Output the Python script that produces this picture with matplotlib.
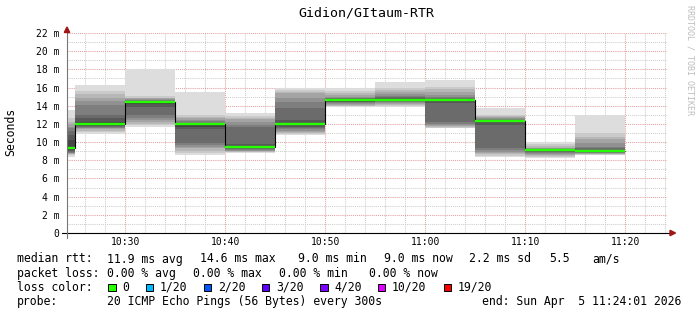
import matplotlib
matplotlib.use('Agg')
import matplotlib.pyplot as plt
from matplotlib.patches import Rectangle, Polygon

W, H = 697, 315
MONO = 'DejaVu Sans Mono'

# end time of each 5 minute step
bin_end = ['10:25', '10:30', '10:35', '10:40', '10:45', '10:50',
           '10:55', '11:00', '11:05', '11:10', '11:15', '11:20']
medians = [9.3, 11.95, 14.4, 11.95, 9.5, 12.0, 14.6, 14.65, 14.65, 12.35, 9.13, 9.05]

# 20 sorted ping times (ms) per step
pings = [
    [8.4, 8.55, 8.65, 8.7, 8.75, 8.8, 8.9, 9.0, 9.1, 9.2, 9.4, 10.2, 10.8, 11.2, 11.5, 11.7, 12.0, 12.25, 12.6, 13.5],
    [10.9, 11.1, 11.25, 11.4, 11.5, 11.6, 11.7, 11.8, 11.85, 11.92, 12.0, 12.2, 12.6, 13.0, 14.1, 14.5, 14.9, 15.3, 15.65, 16.3],
    [11.7, 11.85, 12.0, 12.2, 12.4, 12.7, 13.0, 13.9, 14.2, 14.38, 14.42, 14.45, 14.5, 14.55, 14.6, 14.7, 14.8, 14.9, 15.1, 18.0],
    [8.6, 8.85, 9.05, 9.3, 9.5, 9.7, 9.9, 11.4, 11.7, 11.9, 11.97, 12.0, 12.05, 12.15, 12.3, 12.45, 12.6, 12.8, 13.0, 15.5],
    [8.8, 8.9, 8.95, 9.0, 9.05, 9.1, 9.2, 9.3, 9.4, 9.48, 9.52, 9.6, 9.8, 11.7, 11.9, 12.25, 12.5, 12.7, 12.9, 13.2],
    [10.8, 10.9, 11.0, 11.1, 11.25, 11.4, 11.55, 11.7, 11.85, 11.98, 12.03, 12.1, 12.4, 13.7, 14.4, 14.9, 15.35, 15.5, 15.7, 16.0],
    [13.9, 13.95, 14.0, 14.1, 14.2, 14.3, 14.4, 14.45, 14.5, 14.58, 14.62, 14.65, 14.7, 14.8, 14.9, 15.0, 15.2, 15.4, 15.6, 15.9],
    [13.9, 14.0, 14.1, 14.2, 14.3, 14.4, 14.5, 14.55, 14.6, 14.63, 14.67, 14.72, 14.8, 14.95, 15.1, 15.3, 15.5, 15.7, 16.0, 16.6],
    [11.5, 11.6, 11.7, 11.8, 11.9, 12.0, 12.2, 14.3, 14.55, 14.63, 14.67, 14.72, 14.78, 14.85, 15.0, 15.2, 15.5, 15.8, 16.1, 16.8],
    [8.4, 8.5, 8.65, 8.8, 8.95, 9.1, 9.35, 11.9, 12.2, 12.33, 12.37, 12.4, 12.43, 12.47, 12.55, 12.65, 12.75, 12.85, 13.0, 13.8],
    [8.3, 8.4, 8.5, 8.6, 8.7, 8.8, 8.9, 9.0, 9.05, 9.12, 9.14, 9.15, 9.17, 9.2, 9.25, 9.3, 9.4, 9.55, 9.75, 10.05],
    [8.6, 8.63, 8.67, 8.7, 8.75, 8.8, 8.86, 8.92, 8.98, 9.03, 9.07, 9.1, 9.15, 9.3, 9.5, 9.9, 10.3, 10.6, 11.0, 13.0],
]

x_ticks = ['10:30', '10:40', '10:50', '11:00', '11:10', '11:20']
y_ticks = list(range(0, 23, 2))

loss_labels = ['0', '1/20', '2/20', '3/20', '4/20', '10/20', '19/20']
loss_colors = ['#26ff00', '#00b8ff', '#0059ff', '#5e00ff', '#7e00ff', '#dd00ff', '#ff0000']

stats_rtt = ['11.9 ms avg', '14.6 ms max', '9.0 ms min', '9.0 ms now', '2.2 ms sd', '5.5', 'am/s']
stats_loss = ['0.00 % avg', '0.00 % max', '0.00 % min', '0.00 % now']
probe_txt = '20 ICMP Echo Pings (56 Bytes) every 300s'
end_txt = 'end: Sun Apr  5 11:24:01 2026'


def to_min(s):
    h, m = s.split(':')
    return int(h) * 60 + int(m)


t_start = to_min('10:24') + 10 / 60
t_end = t_start + 60
ends = [to_min(s) for s in bin_end]
starts = [e - 5 for e in ends]

fig = plt.figure(figsize=(W / 100, H / 100), dpi=100)
ax = fig.add_axes([67 / W, (H - 233) / H, 600 / W, 200 / H])
ax.set_xlim(t_start, t_end)
ax.set_ylim(0, 22)

# smoke: outer pairs light, inner pairs dark (smokeping style)
half = 10
for i in range(half):
    c = int(190 / half * (half - (i + 1))) + 50
    col = '#%02x%02x%02x' % (c, c, c)
    lo = [p[i] for p in pings]
    hi = [p[19 - i] for p in pings]
    ax.bar(starts, [h - l for h, l in zip(hi, lo)], width=5, bottom=lo,
           align='edge', color=col, linewidth=0, zorder=1)

edges = starts + [ends[-1]]
ax.stairs(medians, edges, baseline=None, color='black', lw=0.8, zorder=2)
ax.hlines(medians, starts, ends, color=loss_colors[0], lw=1.7, zorder=3)

# grid
ax.set_xticks([to_min(s) for s in x_ticks])
ax.set_xticklabels(x_ticks)
ax.set_xticks([m for m in range(to_min('10:26'), to_min('11:24') + 1, 2)], minor=True)
ax.set_yticks(y_ticks)
ax.set_yticklabels(['0'] + ['%d m' % v for v in y_ticks[1:]])
ax.set_yticks(range(0, 23), minor=True)
ax.set_axisbelow(True)
ax.grid(which='major', color='#e3a0a0', lw=0.75, linestyle=(0, (1, 1)))
ax.grid(which='minor', color='#cdcdcd', lw=0.75, linestyle=(0, (1, 1)))
ax.tick_params(which='both', length=0)
ax.tick_params(axis='y', pad=5.4, labelsize=7)
ax.tick_params(axis='x', pad=3.0, labelsize=7)
for lab in ax.get_xticklabels() + ax.get_yticklabels():
    lab.set_family(MONO)
for s in ax.spines.values():
    s.set_visible(False)

# axis lines with arrows
ax.plot([-5 / 600, 603 / 600], [0, 0], transform=ax.transAxes, color='black',
        lw=0.8, clip_on=False, zorder=4)
ax.plot([0, 0], [-5 / 200, 203 / 200], transform=ax.transAxes, color='#777777',
        lw=0.8, clip_on=False, zorder=4)


def fx(x):
    return x / W


def fy(y):
    return 1 - y / H


arrow_col = '#a01515'
fig.add_artist(Polygon([(fx(67), fy(27)), (fx(64.3), fy(32.5)), (fx(69.7), fy(32.5))],
                       closed=True, color=arrow_col, transform=fig.transFigure))
fig.add_artist(Polygon([(fx(675.5), fy(233)), (fx(670), fy(230.3)), (fx(670), fy(235.7))],
                       closed=True, color=arrow_col, transform=fig.transFigure))

# titles
fig.text(fx(366.5), fy(13), 'Gidion/GItaum-RTR', ha='center', va='center',
         family=MONO, fontsize=9.5)
fig.text(fx(10.5), fy(132), 'Seconds', rotation=90, ha='center', va='center',
         family=MONO, fontsize=8.3)
fig.text(fx(690), fy(60), 'RRDTOOL / TOBI OETIKER', rotation=270, ha='center',
         va='center', family=MONO, fontsize=6, color='#bdbdbd')

# legend rows
fs = 8.3
rows = [259, 273.5, 287.5, 301.5]


def txt(x, y, s, **kw):
    fig.text(fx(x), fy(y), s, ha='left', va='center', family=MONO, fontsize=fs, **kw)


txt(16.7, rows[0], 'median rtt:')
for x, s in zip([107.3, 200, 297.7, 384, 469, 549, 592], stats_rtt):
    txt(x, rows[0], s)

txt(16.7, rows[1], 'packet loss:')
for x, s in zip([107.3, 193.3, 279.3, 369], stats_loss):
    txt(x, rows[1], s)

txt(16.7, rows[2], 'loss color:')
sq_x = [108.3, 145.7, 203.7, 261.7, 320, 377.5, 443.5]
lab_x = [122.7, 160, 218.3, 276.7, 334.3, 392, 458]
for sx, lx, lab, col in zip(sq_x, lab_x, loss_labels, loss_colors):
    fig.add_artist(Rectangle((fx(sx), fy(rows[2] + 3.8)), 7.5 / W, 7.5 / H,
                             facecolor=col, edgecolor='black', lw=0.7,
                             transform=fig.transFigure))
    txt(lx, rows[2], lab)

txt(16.7, rows[3], 'probe:')
txt(107.3, rows[3], probe_txt)
fig.text(fx(681), fy(rows[3]), end_txt, ha='right', va='center', family=MONO, fontsize=fs)

fig.savefig('out.png', dpi=100)
